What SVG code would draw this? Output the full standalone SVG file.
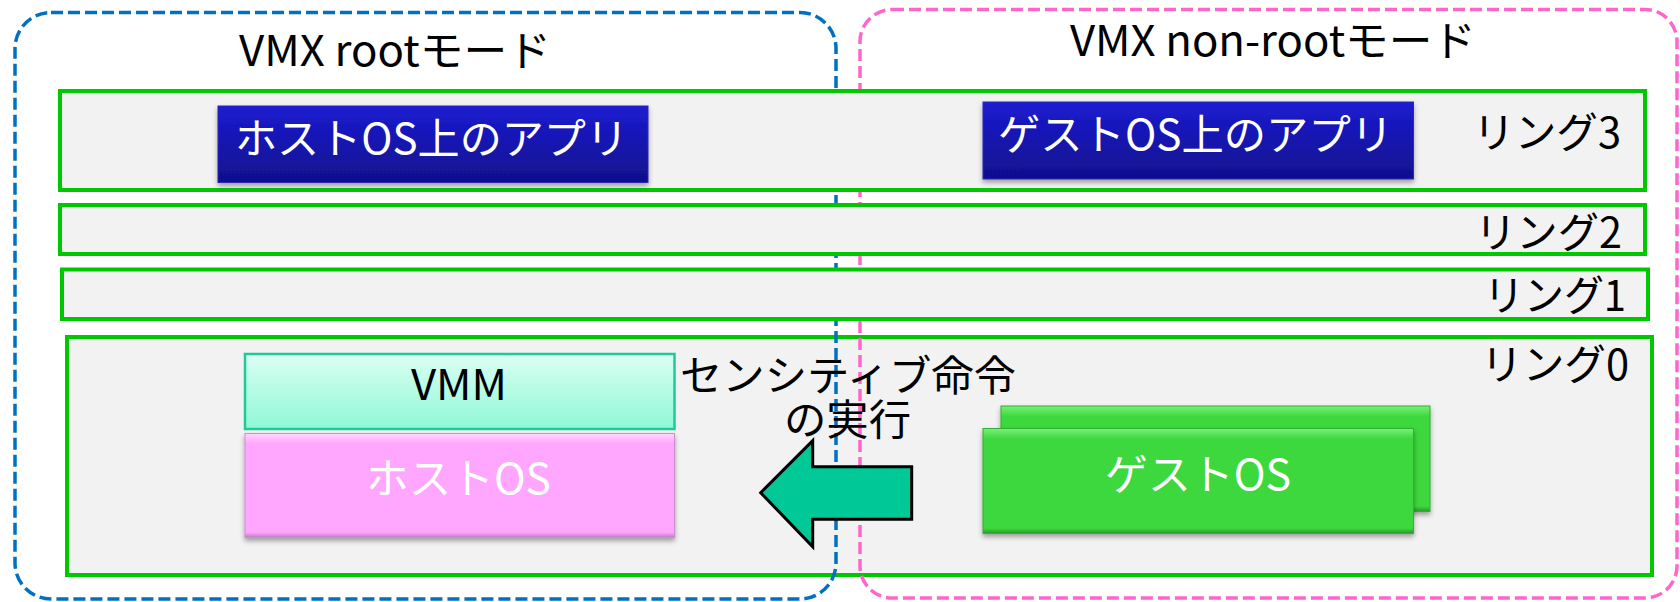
<svg xmlns="http://www.w3.org/2000/svg" width="1680" height="602" viewBox="0 0 1680 602">
<defs>
<style>
.ring{fill:#f2f2f2;stroke:#00c800;stroke-width:4}
.mode-root{fill:none;stroke:#0070c0;stroke-width:3.5;stroke-dasharray:12 5}
.mode-non{fill:none;stroke:#ff66cc;stroke-width:3.5;stroke-dasharray:12 5}
.t{font-family:"Noto Sans CJK JP","Liberation Sans",sans-serif;font-size:42px;fill:#000}
.w{fill:#fff}
</style>
<linearGradient id="gBlue" x1="0" y1="0" x2="0" y2="1">
<stop offset="0" stop-color="#1c1cd2"/>
<stop offset="1" stop-color="#10108c"/>
</linearGradient>
<linearGradient id="gVmm" x1="0" y1="0" x2="0" y2="1">
<stop offset="0" stop-color="#dcfff2"/>
<stop offset="1" stop-color="#8ef8d6"/>
</linearGradient>
<linearGradient id="gPink" x1="0" y1="0" x2="0" y2="1">
<stop offset="0" stop-color="#ffd6ff"/>
<stop offset="0.1" stop-color="#ffa6ff"/>
<stop offset="0.95" stop-color="#ffa6ff"/>
<stop offset="1" stop-color="#c07ac0"/>
</linearGradient>
<linearGradient id="gGreen" x1="0" y1="0" x2="0" y2="1">
<stop offset="0" stop-color="#7af07a"/>
<stop offset="0.1" stop-color="#3cd83c"/>
<stop offset="0.95" stop-color="#3cd83c"/>
<stop offset="1" stop-color="#289828"/>
</linearGradient>
<filter id="sh" x="-5%" y="-10%" width="110%" height="130%">
<feDropShadow dx="0" dy="3" stdDeviation="2.5" flood-color="#000" flood-opacity="0.35"/>
</filter>
</defs>

<g id="ring0">
<rect class="ring" x="67" y="337" width="1585" height="238"/>
<text class="t" x="1481" y="380" textLength="148" lengthAdjust="spacingAndGlyphs">リング0</text>
</g>

<g id="vmx-root">
<rect class="mode-root" x="15" y="12.5" width="821" height="586.5" rx="36"/>
<text class="t" x="239" y="66" textLength="312" lengthAdjust="spacingAndGlyphs">VMX rootモード</text>
</g>

<g id="vmx-nonroot">
<rect class="mode-non" x="860" y="9.5" width="817" height="588.5" rx="32"/>
<text class="t" x="1070" y="56" textLength="406" lengthAdjust="spacingAndGlyphs">VMX non-rootモード</text>
</g>

<g id="ring3">
<rect class="ring" x="60" y="91" width="1585" height="99"/>
<text class="t" x="1473" y="148" textLength="148" lengthAdjust="spacingAndGlyphs">リング3</text>
</g>

<g id="ring2">
<rect class="ring" x="60" y="205" width="1585" height="49"/>
<text class="t" x="1475" y="248" textLength="147" lengthAdjust="spacingAndGlyphs">リング2</text>
</g>

<g id="ring1">
<rect class="ring" x="62" y="269.5" width="1586" height="49.5"/>
<text class="t" x="1484" y="311" textLength="142" lengthAdjust="spacingAndGlyphs">リング1</text>
</g>

<g id="host-app">
<rect x="218" y="106" width="430" height="76.5" fill="url(#gBlue)" stroke="#2a2ab8" stroke-width="1" filter="url(#sh)"/>
<text class="t w" x="235" y="154" font-size="44" textLength="393" lengthAdjust="spacingAndGlyphs">ホストOS上のアプリ</text>
</g>

<g id="guest-app">
<rect x="983" y="102" width="430.5" height="77" fill="url(#gBlue)" stroke="#2a2ab8" stroke-width="1" filter="url(#sh)"/>
<text class="t w" x="998" y="150" font-size="44" textLength="395" lengthAdjust="spacingAndGlyphs">ゲストOS上のアプリ</text>
</g>

<g id="vmm">
<rect x="245" y="354" width="429.5" height="75" fill="url(#gVmm)" stroke="#1ccc98" stroke-width="2.5"/>
<text class="t" x="411" y="400" textLength="96" lengthAdjust="spacingAndGlyphs">VMM</text>
</g>

<g id="host-os">
<rect x="245" y="433.5" width="429.5" height="104" fill="url(#gPink)" stroke="#d08ad0" stroke-width="1" filter="url(#sh)"/>
<text class="t w" x="366" y="494" textLength="185" lengthAdjust="spacingAndGlyphs">ホストOS</text>
</g>

<g id="guest-os">
<rect x="1001" y="406" width="429" height="105.5" fill="url(#gGreen)" stroke="#30b030" stroke-width="1" filter="url(#sh)"/>
<rect x="983" y="428.5" width="430.5" height="105" fill="url(#gGreen)" stroke="#30b030" stroke-width="1" filter="url(#sh)"/>
<text class="t w" x="1105" y="490" textLength="186" lengthAdjust="spacingAndGlyphs">ゲストOS</text>
</g>

<g id="connectors">
<polygon points="760.7,492.7 812.7,440.7 812.7,466.7 911.7,466.7 911.7,519.3 812.7,519.3 812.7,546.7" fill="#00c896" stroke="#000" stroke-width="3" stroke-linejoin="miter"/>
<text class="t"><tspan x="680" y="391" textLength="336" lengthAdjust="spacingAndGlyphs">センシティブ命令</tspan><tspan x="784" y="435" textLength="127" lengthAdjust="spacingAndGlyphs">の実行</tspan></text>
</g>
</svg>
